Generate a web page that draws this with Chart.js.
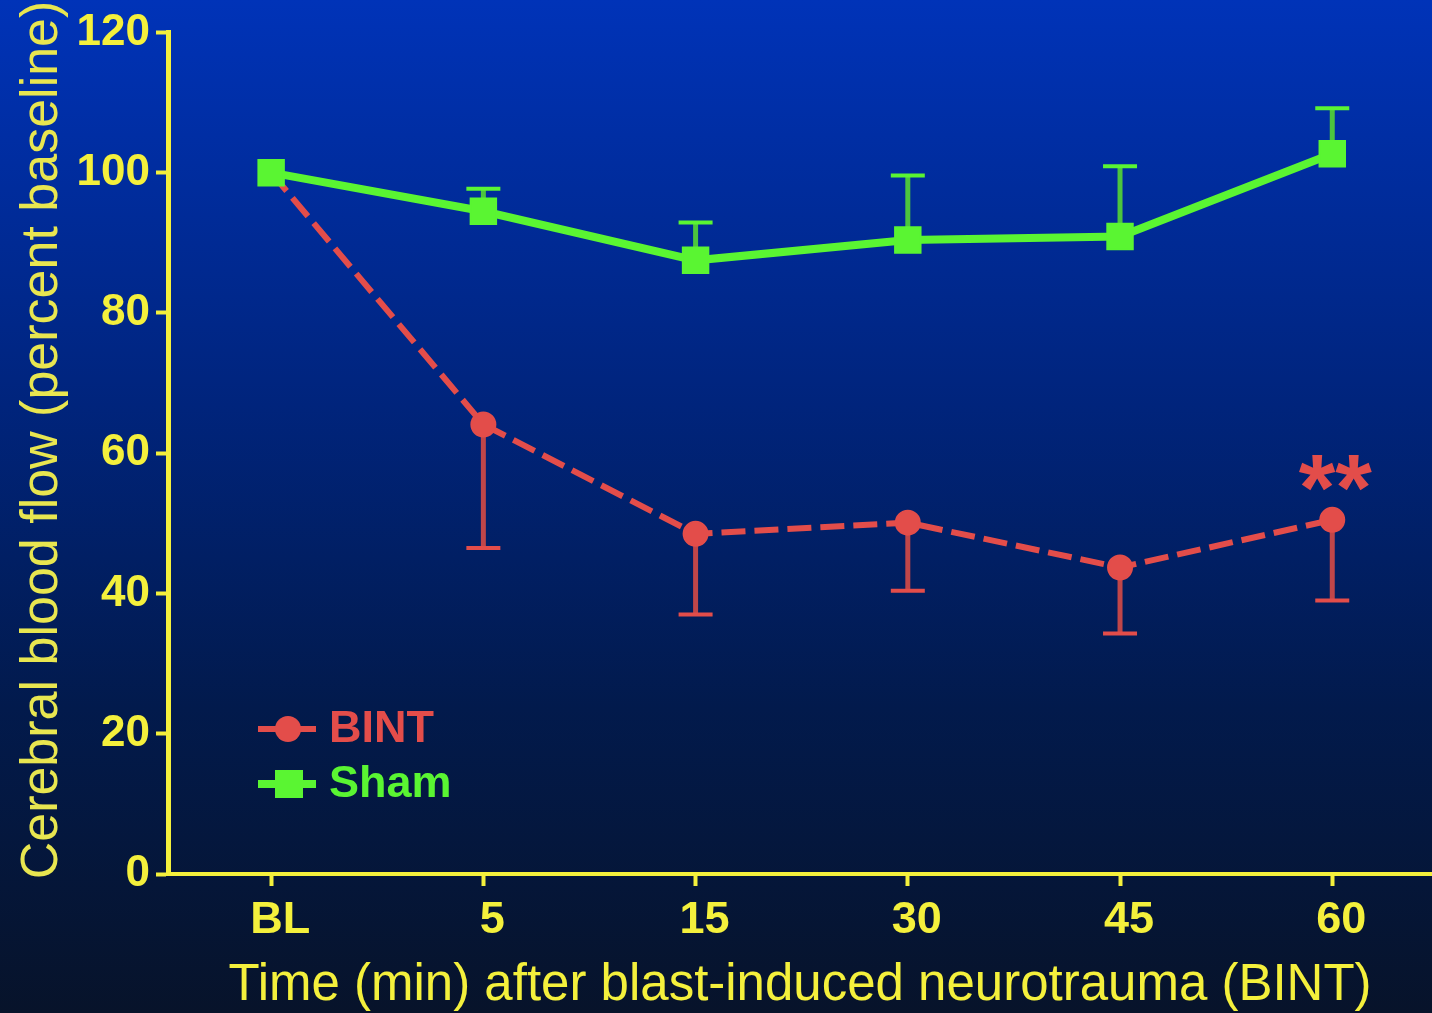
<!DOCTYPE html>
<html lang="en">
<head>
<meta charset="utf-8" />
<title>Cerebral blood flow after BINT</title>
<script src="https://cdn.jsdelivr.net/npm/chart.js"></script>
<style>
  * { margin: 0; padding: 0; box-sizing: border-box; }
  html, body { width: 1432px; height: 1013px; overflow: hidden; }
  body { background: linear-gradient(#0033b8 0%, #00247c 40%, #021a4c 70%, #07132a 100%); }
  canvas { display: block; }
</style>
</head>
<body>
<canvas id="cbf" width="1432" height="1013"></canvas>
<script>
  const timeLabels = ['BL', '5', '15', '30', '45', '60'];
  const bintMean = [100, 64.1, 48.5, 50.1, 43.7, 50.5];
  const bintErr  = [0, 17.6, 11.5, 9.7, 9.4, 11.5];
  const shamMean = [100, 94.5, 87.5, 90.4, 90.9, 102.7];
  const shamErr  = [0, 3.2, 5.4, 9.2, 10.0, 6.5];
  const bintMarks = ['', '', '', '', '', '**'];
  const yTitle = 'Cerebral blood flow (percent baseline)';

  const FONT = '"Liberation Sans", Arial, sans-serif';
  const YELLOW = '#f4f03c';
  const RED = '#e34d4a';
  const GREEN = '#5af532';

  // error bars: sham goes up, BINT goes down
  const errorBars = {
    id: 'errorBars',
    beforeDatasetsDraw(chart) {
      const { ctx, scales: { y } } = chart;
      chart.data.datasets.forEach((ds, i) => {
        const meta = chart.getDatasetMeta(i);
        ctx.save();
        meta.data.forEach((pt, j) => {
          const e = ds.errors[j];
          if (!e) return;
          const y0 = y.getPixelForValue(ds.data[j].y);
          const y1 = y.getPixelForValue(ds.data[j].y + ds.errDir * e);
          ctx.strokeStyle = ds.stemColor;
          ctx.lineWidth = 5;
          ctx.beginPath();
          ctx.moveTo(pt.x, y0);
          ctx.lineTo(pt.x, y1);
          ctx.stroke();
          ctx.strokeStyle = ds.borderColor;
          ctx.lineWidth = 4;
          ctx.beginPath();
          ctx.moveTo(pt.x - 17, y1);
          ctx.lineTo(pt.x + 17, y1);
          ctx.stroke();
        });
        ctx.restore();
      });
    }
  };

  // significance stars above BINT points
  const stars = {
    id: 'stars',
    afterDatasetsDraw(chart) {
      const { ctx } = chart;
      const meta = chart.getDatasetMeta(0);
      ctx.save();
      ctx.fillStyle = RED;
      ctx.font = 'bold 94px ' + FONT;
      ctx.textAlign = 'center';
      ctx.textBaseline = 'alphabetic';
      meta.data.forEach((pt, j) => {
        if (bintMarks[j]) ctx.fillText(bintMarks[j], pt.x + 3, pt.y);
      });
      ctx.restore();
    }
  };

  // legend inside the plot + rotated y title
  const extras = {
    id: 'extras',
    afterDraw(chart) {
      const { ctx } = chart;
      const items = [
        { label: 'BINT', color: RED, y: 729, lw: 6, shape: 'circle' },
        { label: 'Sham', color: GREEN, y: 784, lw: 8, shape: 'rect' }
      ];
      ctx.save();
      items.forEach(it => {
        ctx.strokeStyle = it.color;
        ctx.fillStyle = it.color;
        ctx.lineWidth = it.lw;
        ctx.beginPath();
        ctx.moveTo(258, it.y);
        ctx.lineTo(316, it.y);
        ctx.stroke();
        ctx.beginPath();
        if (it.shape === 'circle') ctx.arc(288, it.y, 13, 0, Math.PI * 2);
        else ctx.rect(275, it.y - 14, 28, 28);
        ctx.fill();
        ctx.font = 'bold 45px ' + FONT;
        ctx.textBaseline = 'middle';
        ctx.fillText(it.label, 329, it.y + 1);
      });
      ctx.translate(57, 440);
      ctx.rotate(-Math.PI / 2);
      ctx.fillStyle = '#e8e650';
      ctx.font = '52px ' + FONT;
      ctx.textAlign = 'center';
      ctx.textBaseline = 'alphabetic';
      ctx.fillText(yTitle, 0, 0);
      ctx.restore();
    }
  };

  new Chart('cbf', {
    type: 'line',
    data: {
      datasets: [
        {
          label: 'BINT',
          order: 1,
          data: bintMean.map((v, i) => ({ x: i, y: v })),
          errors: bintErr,
          errDir: -1,
          stemColor: '#c04649',
          borderColor: RED,
          backgroundColor: RED,
          borderWidth: 6,
          borderDash: [24, 9],
          pointStyle: 'circle',
          pointRadius: 12,
          pointBorderWidth: 2,
          tension: 0
        },
        {
          label: 'Sham',
          order: 0,
          data: shamMean.map((v, i) => ({ x: i, y: v })),
          errors: shamErr,
          errDir: 1,
          stemColor: '#4cc53e',
          borderColor: GREEN,
          backgroundColor: GREEN,
          borderWidth: 8,
          pointStyle: 'rect',
          pointRadius: 18,
          pointBorderWidth: 2,
          tension: 0
        }
      ]
    },
    options: {
      responsive: false,
      animation: false,
      layout: { autoPadding: false, padding: { top: 28, right: 0, left: 0, bottom: 0 } },
      plugins: { legend: { display: false }, tooltip: { enabled: false } },
      scales: {
        x: {
          type: 'linear',
          min: -0.486,
          max: 5.47,
          afterBuildTicks: s => { s.ticks = timeLabels.map((_, i) => ({ value: i })); },
          afterFit: s => { s.height = 139; s.paddingLeft = 0; s.paddingRight = 0; },
          border: { color: YELLOW, width: 4 },
          grid: { drawOnChartArea: false, color: YELLOW, tickColor: YELLOW, tickWidth: 4, tickLength: 12 },
          ticks: {
            callback: v => timeLabels[v],
            color: YELLOW,
            font: { family: FONT, size: 45, weight: 'bold' },
            padding: 8,
            labelOffset: 9,
            maxRotation: 0
          },
          title: {
            display: true,
            text: 'Time (min) after blast-induced neurotrauma (BINT)',
            color: YELLOW,
            font: { family: FONT, size: 51, lineHeight: 1.05 },
            padding: { top: 0, bottom: 0 }
          }
        },
        y: {
          min: 0,
          max: 120,
          afterFit: s => { s.width = 168; },
          border: { color: YELLOW, width: 5 },
          grid: { drawOnChartArea: false, color: YELLOW, tickColor: YELLOW, tickWidth: 4, tickLength: 12 },
          ticks: {
            stepSize: 20,
            color: YELLOW,
            font: { family: FONT, size: 44, weight: 'bold' },
            padding: 6
          }
        }
      }
    },
    plugins: [errorBars, stars, extras]
  });
</script>
</body>
</html>
